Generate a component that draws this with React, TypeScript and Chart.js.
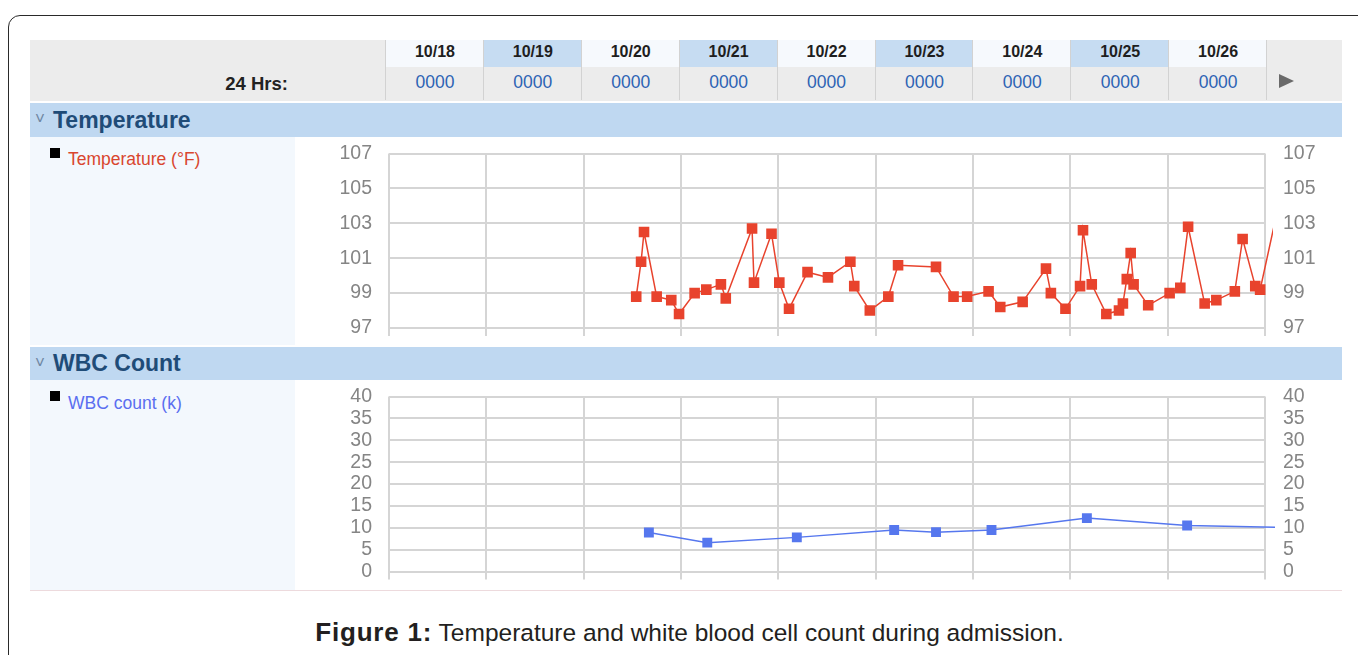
import React, { useEffect, useRef } from 'react';
import { Chart, registerables } from 'chart.js';

Chart.register(...registerables);

const FONT = '"Liberation Sans", Arial, Helvetica, sans-serif';
Chart.defaults.font.family = FONT;

// Header labels
const dayLabels = ['10/18', '10/19', '10/20', '10/21', '10/22', '10/23', '10/24', '10/25', '10/26'];
const hourLabels = ['0000', '0000', '0000', '0000', '0000', '0000', '0000', '0000', '0000'];

// Temperature (°F): x = days since 10/18 00:00
const tempDays = [
  2.54, 2.59, 2.62, 2.75, 2.90, 2.98, 3.14, 3.26, 3.41, 3.46,
  3.73, 3.75, 3.93, 4.01, 4.11, 4.30, 4.51, 4.74, 4.78, 4.94,
  5.13, 5.23, 5.62, 5.80, 5.94, 6.16, 6.28, 6.51, 6.75, 6.80,
  6.95, 7.10, 7.13, 7.22, 7.37, 7.50, 7.54, 7.58, 7.62, 7.65,
  7.80, 8.02, 8.13, 8.21, 8.38, 8.50, 8.69, 8.77, 8.90, 8.95,
  9.15,
];
const tempValues = [
  98.8, 100.8, 102.5, 98.8, 98.6, 97.8, 99.0, 99.2, 99.5, 98.7,
  102.7, 99.6, 102.4, 99.6, 98.1, 100.2, 99.9, 100.8, 99.4, 98.0,
  98.8, 100.6, 100.5, 98.8, 98.8, 99.1, 98.2, 98.5, 100.4, 99.0,
  98.1, 99.4, 102.6, 99.5, 97.8, 98.0, 98.4, 99.8, 101.3, 99.5,
  98.3, 99.0, 99.3, 102.8, 98.4, 98.6, 99.1, 102.1, 99.4, 99.2,
  104.3,
];
const tempTicks = [97, 99, 101, 103, 105, 107];

// WBC count (k)
const wbcDays = [2.67, 3.27, 4.19, 5.19, 5.62, 6.19, 7.17, 8.20, 9.60];
const wbcValues = [8.9, 6.6, 7.8, 9.5, 9.0, 9.5, 12.2, 10.5, 9.9];
const wbcTicks = [0, 5, 10, 15, 20, 25, 30, 35, 40];

const dayGrid = [0, 1, 2, 3, 4, 5, 6, 7, 8, 9];

const GRID = '#d5d5d5';
const TICK_COLOR = '#858585';

function makeConfig(
  xs: number[],
  ys: number[],
  ticks: number[],
  color: string,
  radius: number,
  clipRight: number,
  bottomSpace: number
): any {
  const tickList = () => ticks.map((v) => ({ value: v }));
  return {
    type: 'line',
    data: {
      datasets: [
        {
          data: xs.map((x, i) => ({ x, y: ys[i] })),
          borderColor: color,
          backgroundColor: color,
          borderWidth: 1.5,
          pointStyle: 'rect',
          pointRadius: radius,
          pointBackgroundColor: color,
          pointBorderColor: color,
          pointBorderWidth: 0,
          tension: 0,
          clip: { left: 10, top: 10, right: clipRight, bottom: 10 },
        },
      ],
    },
    options: {
      responsive: false,
      animation: false,
      events: [],
      layout: { padding: { top: 16.5, left: 0, right: 0, bottom: 0 } },
      plugins: { legend: { display: false }, tooltip: { enabled: false } },
      scales: {
        x: {
          type: 'linear',
          min: dayGrid[0],
          max: dayGrid[dayGrid.length - 1],
          afterBuildTicks: (s: any) => {
            s.ticks = dayGrid.map((v) => ({ value: v }));
          },
          ticks: { display: false },
          grid: { color: GRID, lineWidth: 2, drawTicks: true, tickLength: 8 },
          border: { display: false },
          afterFit: (s: any) => {
            s.height = bottomSpace;
            s.paddingLeft = 0;
            s.paddingRight = 0;
          },
        },
        y: {
          position: 'left',
          min: ticks[0],
          max: ticks[ticks.length - 1],
          afterBuildTicks: (s: any) => {
            s.ticks = tickList();
          },
          ticks: { font: { size: 19.5, family: FONT }, color: TICK_COLOR, padding: 17, autoSkip: false },
          grid: { color: GRID, lineWidth: 2, drawTicks: false },
          border: { display: false },
          afterFit: (s: any) => {
            s.width = 94;
            s.paddingTop = 0;
            s.paddingBottom = 0;
          },
        },
        y2: {
          position: 'right',
          min: ticks[0],
          max: ticks[ticks.length - 1],
          afterBuildTicks: (s: any) => {
            s.ticks = tickList();
          },
          ticks: { font: { size: 19.5, family: FONT }, color: TICK_COLOR, padding: 18, autoSkip: false },
          grid: { display: false, drawTicks: false },
          border: { display: false },
          afterFit: (s: any) => {
            s.width = 77;
            s.paddingTop = 0;
            s.paddingBottom = 0;
          },
        },
      },
    },
  };
}

const COL_LEFT = 386;
const COL_W = 97.9;

export default function App() {
  const tempRef = useRef<HTMLCanvasElement | null>(null);
  const wbcRef = useRef<HTMLCanvasElement | null>(null);

  useEffect(() => {
    const c1 = new Chart(
      tempRef.current as HTMLCanvasElement,
      makeConfig(tempDays, tempValues, tempTicks, '#e8432d', 7.5, 8, 17)
    );
    const c2 = new Chart(
      wbcRef.current as HTMLCanvasElement,
      makeConfig(wbcDays, wbcValues, wbcTicks, '#5677ee', 7, 10, 18.5)
    );
    return () => {
      c1.destroy();
      c2.destroy();
    };
  }, []);

  const abs = (s: React.CSSProperties): React.CSSProperties => ({ position: 'absolute', ...s });

  return (
    <div
      style={{
        position: 'absolute',
        left: 0,
        top: 0,
        width: 1358,
        height: 655,
        overflow: 'hidden',
        background: '#ffffff',
        fontFamily: FONT,
      }}
    >
      {/* outer rounded frame */}
      <div style={abs({ left: 8, top: 15, width: 1400, height: 700, border: '1px solid #2a2a2a', borderRadius: 12 })} />

      {/* header */}
      <div style={abs({ left: 30, top: 40, width: 1312, height: 61, background: '#ececec' })} />
      <div
        style={abs({
          left: 30,
          top: 67,
          width: 258,
          height: 33,
          lineHeight: '33px',
          textAlign: 'right',
          fontWeight: 'bold',
          fontSize: 18.5,
          color: '#222',
        })}
      >
        24 Hrs:
      </div>
      {dayLabels.map((d, i) => (
        <React.Fragment key={d}>
          <div
            style={abs({
              left: COL_LEFT + COL_W * i,
              top: 40,
              width: COL_W,
              height: 27,
              lineHeight: '23px',
              background: i % 2 === 1 ? '#c6dcf2' : '#f6f9fd',
              textAlign: 'center',
              fontWeight: 'bold',
              fontSize: 16,
              color: '#1e1e1e',
            })}
          >
            {d}
          </div>
          <div
            style={abs({
              left: COL_LEFT + COL_W * i,
              top: 67,
              width: COL_W,
              height: 33,
              lineHeight: '31px',
              textAlign: 'center',
              fontSize: 17.5,
              color: '#2d63b4',
            })}
          >
            {hourLabels[i]}
          </div>
          <div style={abs({ left: COL_LEFT + COL_W * i - 1, top: 40, width: 1, height: 60, background: '#d2d2d2' })} />
        </React.Fragment>
      ))}
      <div style={abs({ left: COL_LEFT + COL_W * dayLabels.length - 1, top: 40, width: 1, height: 60, background: '#d2d2d2' })} />
      <div
        style={abs({
          left: 1279,
          top: 74,
          width: 0,
          height: 0,
          borderLeft: '15px solid #6a6a6a',
          borderTop: '7px solid transparent',
          borderBottom: '7px solid transparent',
        })}
      />

      {/* Temperature band */}
      <div style={abs({ left: 30, top: 103, width: 1312, height: 34, background: '#bfd8f1' })} />
      <div style={abs({ left: 35, top: 104, height: 34, lineHeight: '30px', fontSize: 17, color: '#6f87a3' })}>˅</div>
      <div
        style={abs({ left: 53, top: 103, height: 34, lineHeight: '34px', fontSize: 23, fontWeight: 'bold', color: '#1f4c78' })}
      >
        Temperature
      </div>
      <div style={abs({ left: 30, top: 137, width: 265, height: 208, background: '#f3f8fd' })} />
      <div style={abs({ left: 50, top: 148, width: 10, height: 10, background: '#000' })} />
      <div style={abs({ left: 68, top: 149, lineHeight: '20px', fontSize: 17.5, color: '#d9462e' })}>Temperature (°F)</div>
      <canvas
        ref={tempRef}
        width={1047}
        height={208}
        style={abs({ left: 295, top: 137, width: 1047, height: 208 })}
      />

      {/* WBC band */}
      <div style={abs({ left: 30, top: 347, width: 1312, height: 33, background: '#bfd8f1' })} />
      <div style={abs({ left: 35, top: 348, height: 33, lineHeight: '29px', fontSize: 17, color: '#6f87a3' })}>˅</div>
      <div
        style={abs({ left: 53, top: 347, height: 33, lineHeight: '33px', fontSize: 23, fontWeight: 'bold', color: '#1f4c78' })}
      >
        WBC Count
      </div>
      <div style={abs({ left: 30, top: 380, width: 265, height: 210, background: '#f3f8fd' })} />
      <div style={abs({ left: 50, top: 391, width: 10, height: 10, background: '#000' })} />
      <div style={abs({ left: 68, top: 393, lineHeight: '20px', fontSize: 17.5, color: '#5a6ef0' })}>WBC count (k)</div>
      <canvas
        ref={wbcRef}
        width={1047}
        height={210}
        style={abs({ left: 295, top: 380, width: 1047, height: 210 })}
      />
      <div style={abs({ left: 30, top: 590, width: 1312, height: 1, background: '#eddadd' })} />

      {/* caption */}
      <div
        style={abs({
          left: 0,
          top: 616,
          width: 1379,
          height: 32,
          lineHeight: '32px',
          textAlign: 'center',
          fontSize: 24.5,
          color: '#231f20',
        })}
      >
        <b style={{ fontSize: 26, letterSpacing: 0.8 }}>Figure 1:</b> Temperature and white blood cell count during admission.
      </div>
    </div>
  );
}
